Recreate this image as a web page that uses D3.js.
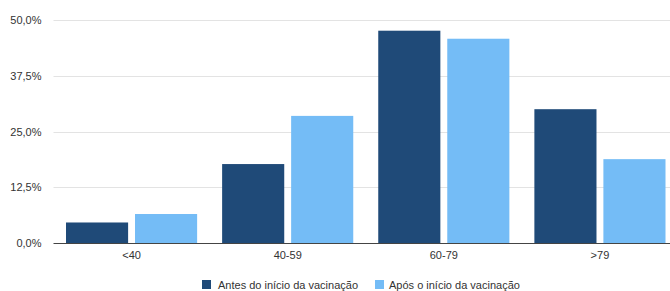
<!DOCTYPE html>
<html>
<head>
<meta charset="utf-8">
<script src="https://cdn.jsdelivr.net/npm/d3@7"></script>
<style>
  body { margin: 0; background: #fff; }
  svg { display: block; font-family: "Liberation Sans", Arial, sans-serif; }
</style>
</head>
<body>
<div id="chart"></div>
<script>
// data
var categories = ["<40", "40-59", "60-79", ">79"];
var seriesNames = ["Antes do início da vacinação", "Após o início da vacinação"];
var antes = [4.6, 17.7, 47.6, 30.0];
var apos = [6.5, 28.5, 45.8, 18.8];
var yTicks = [0, 12.5, 25, 37.5, 50];

var colors = ["#1f4a78", "#74bcf6"];

var margin = {top: 20, right: -8, bottom: 48, left: 53.5},
    width = 670 - margin.left - margin.right,
    height = 291 - margin.top - margin.bottom;

var svg = d3.select("#chart")
  .append("svg")
    .attr("width", 670)
    .attr("height", 291)
  .append("g")
    .attr("transform", "translate(" + margin.left + "," + margin.top + ")");

var x = d3.scaleBand()
  .domain(categories)
  .range([0, width])
  .paddingInner(0)
  .paddingOuter(0);

var x1 = d3.scaleBand()
  .domain([0, 1])
  .range([12.5, x.bandwidth() - 12.5])
  .paddingInner(0.1);

var y = d3.scaleLinear()
  .domain([0, 50])
  .range([height, 0]);

var fmt = function(d) { return d.toFixed(1).replace(".", ",") + "%"; };

// gridlines
svg.append("g")
  .selectAll("line")
  .data(yTicks.filter(function(d) { return d > 0; }))
  .enter().append("line")
    .attr("x1", 0)
    .attr("x2", 670)
    .attr("y1", function(d) { return Math.round(y(d)) + 0.5; })
    .attr("y2", function(d) { return Math.round(y(d)) + 0.5; })
    .attr("stroke", "#e3e3e3")
    .attr("stroke-width", 1);

// y axis labels
var yAxis = svg.append("g")
  .call(d3.axisLeft(y).tickValues(yTicks).tickFormat(fmt).tickSize(0).tickPadding(12));
yAxis.select(".domain").remove();
yAxis.selectAll("text")
  .attr("fill", "#333")
  .style("font-size", "11px");

// bars
var rows = categories.map(function(c, i) { return {cat: c, vals: [antes[i], apos[i]]}; });

var groups = svg.selectAll(".grp")
  .data(rows)
  .enter().append("g")
    .attr("class", "grp")
    .attr("transform", function(d) { return "translate(" + x(d.cat) + ",0)"; });

groups.selectAll("rect")
  .data(function(d) { return d.vals.map(function(v, j) { return {j: j, v: v}; }); })
  .enter().append("rect")
    .attr("x", function(d) { return x1(d.j); })
    .attr("y", function(d) { return y(d.v); })
    .attr("width", x1.bandwidth())
    .attr("height", function(d) { return height - y(d.v); })
    .attr("fill", function(d) { return colors[d.j]; });

// x axis
var xAxis = svg.append("g")
  .attr("transform", "translate(0," + height + ")")
  .call(d3.axisBottom(x).tickSize(0).tickPadding(8));
xAxis.select(".domain")
  .attr("stroke", "#444")
  .attr("d", "M0,0.5H" + (670 - margin.left));
xAxis.selectAll("text")
  .attr("fill", "#333")
  .style("font-size", "11px");

// legend
var legendX = [202, 375];
var legendTextX = [218, 389];
var legend = svg.append("g")
  .attr("transform", "translate(" + (-margin.left) + "," + (-margin.top) + ")");
seriesNames.forEach(function(name, i) {
  legend.append("rect")
    .attr("x", legendX[i])
    .attr("y", 280)
    .attr("width", 9)
    .attr("height", 9)
    .attr("fill", colors[i]);
  legend.append("text")
    .attr("x", legendTextX[i])
    .attr("y", 289)
    .attr("fill", "#333")
    .style("font-size", "11px")
    .text(name);
});
</script>
</body>
</html>
